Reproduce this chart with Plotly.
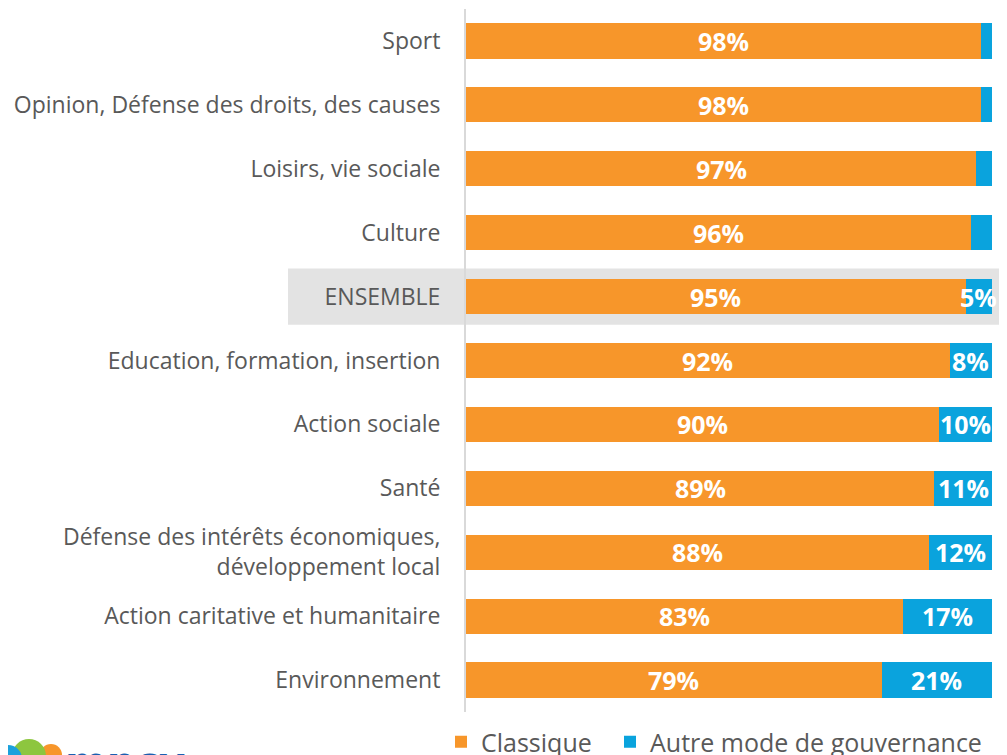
import plotly.graph_objects as go

categories = [
    "Sport",
    "Opinion, Défense des droits, des causes",
    "Loisirs, vie sociale",
    "Culture",
    "ENSEMBLE",
    "Education, formation, insertion",
    "Action sociale",
    "Santé",
    "Défense des intérêts économiques,<br>développement local",
    "Action caritative et humanitaire",
    "Environnement",
]
classique = [98, 98, 97, 96, 95, 92, 90, 89, 88, 83, 79]
autre = [2, 2, 3, 4, 5, 8, 10, 11, 12, 17, 21]
min_label = 5

ORANGE = "#F7962A"
BLUE = "#0AA3DD"

OFF = 8  # page body margin
W, H = 1007 - OFF, 755 - OFF
L, R, T, B = 466 - OFF, 15, 9 - OFF, 43
PW, PH = W - L - R, H - T - B


def px_x(p):
    return (p - OFF - L) / PW


def px_y(p):
    return (H - B - (p - OFF)) / PH


fig = go.Figure()
fig.add_trace(go.Bar(y=categories, x=classique, orientation="h", name="Classique",
                     marker=dict(color=ORANGE, line=dict(width=0)), width=0.55,
                     legend="legend"))
fig.add_trace(go.Bar(y=categories, x=autre, orientation="h", name="Autre mode de gouvernance",
                     marker=dict(color=BLUE, line=dict(width=0)), width=0.55,
                     legend="legend2"))

lab_font = dict(family="Open Sans", size=25, color="white", weight="bold")
annotations = []
for i, (c, a) in enumerate(zip(classique, autre)):
    annotations.append(dict(x=c / 2, y=i, xref="x", yref="y", text=f"{c}%", showarrow=False,
                            font=lab_font))
    if a >= min_label:
        annotations.append(dict(x=c + a / 2, y=i, xref="x", yref="y", text=f"{a}%", showarrow=False,
                                font=lab_font))

# logo hint at bottom-left (cut by the page edge, as in the original)
annotations.append(dict(x=px_x(63), y=px_y(737), xref="paper", yref="paper", xanchor="left", yanchor="top",
                        text="mpcv", showarrow=False,
                        font=dict(family="DejaVu Sans", size=40, color="#1B5FB0", weight="bold")))

shapes = [
    dict(type="rect", xref="paper", yref="y", x0=px_x(288), x1=px_x(1010), y0=3.56, y1=4.44,
         fillcolor="#E3E3E3", line=dict(width=0), layer="below"),
    dict(type="circle", xref="paper", yref="paper", x0=px_x(40), x1=px_x(62), y0=px_y(744), y1=px_y(766),
         fillcolor="#F7962A", line=dict(width=0)),
    dict(type="circle", xref="paper", yref="paper", x0=px_x(12), x1=px_x(46), y0=px_y(739), y1=px_y(773),
         fillcolor="#8DC63F", line=dict(width=0)),
    dict(type="circle", xref="paper", yref="paper", x0=px_x(-6), x1=px_x(22), y0=px_y(745), y1=px_y(773),
         fillcolor="#1BA1DC", line=dict(width=0)),
]

leg_common = dict(orientation="h", xref="container", yref="container",
                  y=(755 - 742) / H, xanchor="left", yanchor="middle",
                  font=dict(family="Open Sans", size=25, color="#595959"),
                  bgcolor="rgba(0,0,0,0)")

fig.update_layout(
    width=W, height=H,
    barmode="stack",
    bargap=0.45,
    paper_bgcolor="white",
    plot_bgcolor="rgba(0,0,0,0)",
    margin=dict(l=L, r=R, t=T, b=B, autoexpand=False),
    showlegend=True,
    legend=dict(x=(441 - OFF) / W, **leg_common),
    legend2=dict(x=(610 - OFF) / W, **leg_common),
    xaxis=dict(range=[0, 100], visible=False, showgrid=False, zeroline=False),
    yaxis=dict(autorange="reversed", showgrid=False, zeroline=False, automargin=False,
               showline=True, linecolor="#D9D9D9", linewidth=2,
               ticks="", ticklabelstandoff=19,
               tickfont=dict(family="Open Sans", size=23, color="#595959")),
    annotations=annotations,
    shapes=shapes,
)

fig.write_html("out.html")
